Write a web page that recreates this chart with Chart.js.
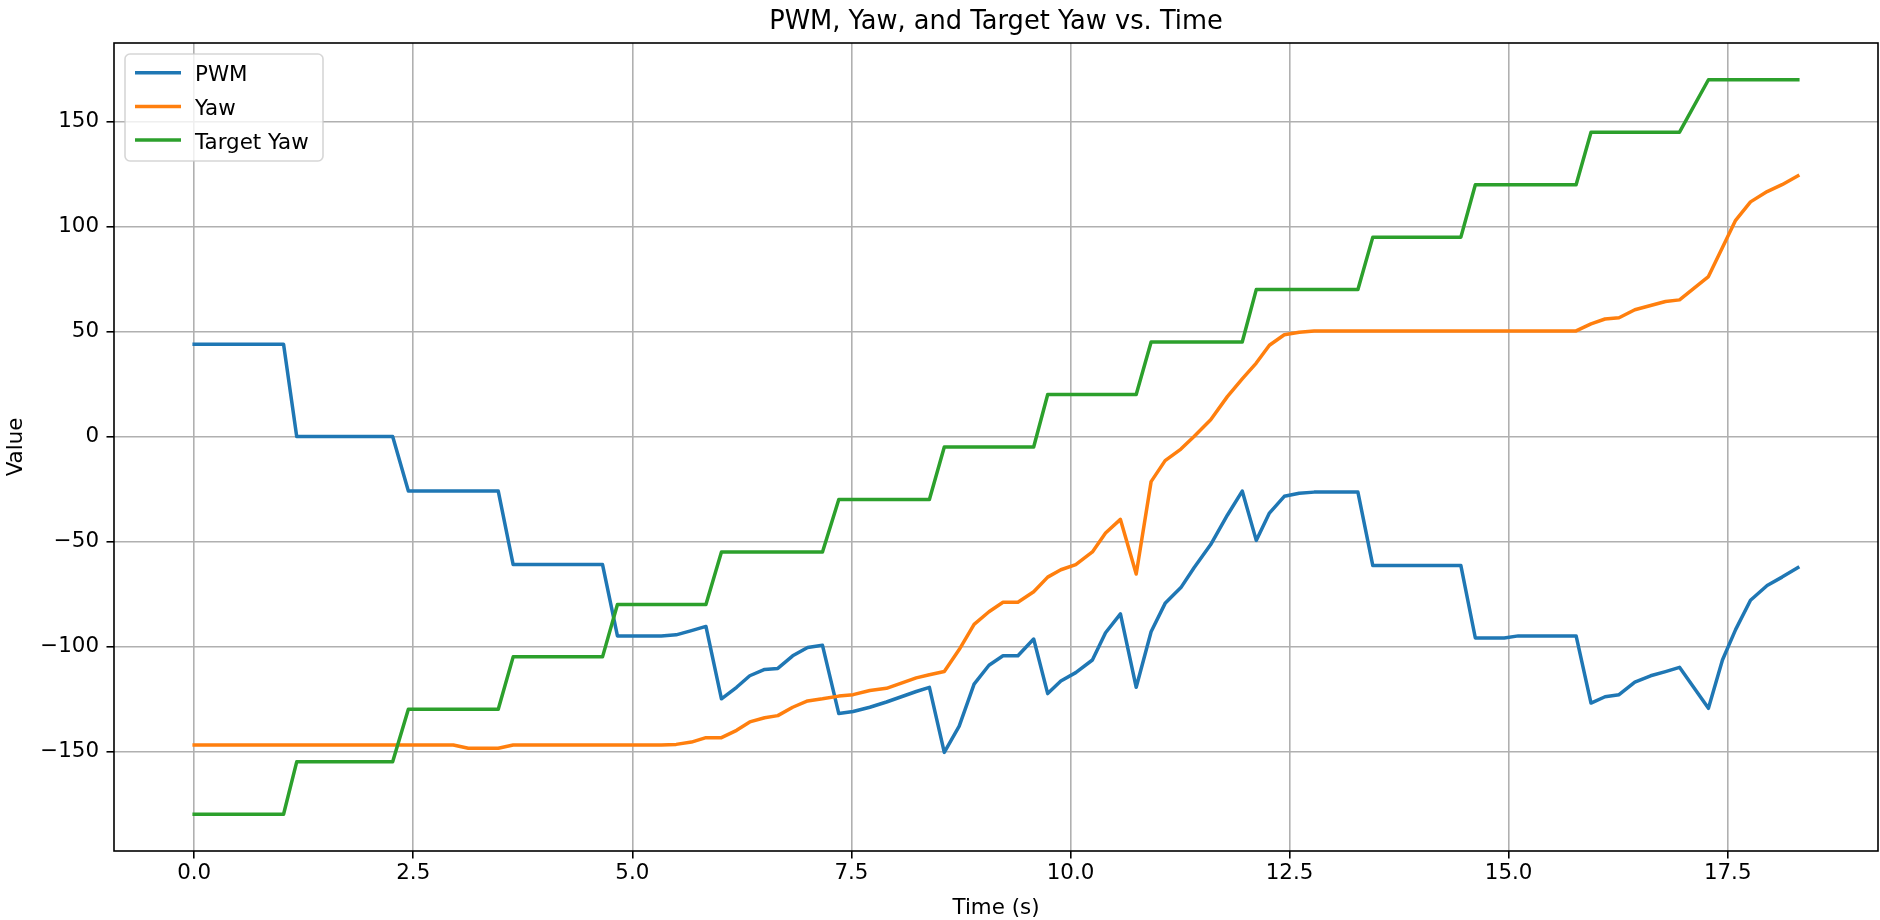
<!DOCTYPE html>
<html>
<head>
<meta charset="utf-8">
<title>PWM, Yaw, and Target Yaw vs. Time</title>
<script src="https://cdn.jsdelivr.net/npm/chart.js@4.4.1/dist/chart.umd.min.js"></script>
<style>
  html, body { margin: 0; padding: 0; background: #fff; }
  #wrap { width: 1880px; height: 920px; position: relative; }
</style>
</head>
<body>
<div id="wrap"><canvas id="chart"></canvas></div>
<script>
// Sample times (s)
const time = [
  0, 0.17, 0.34, 0.51, 0.68, 0.85, 1.02,
  1.17, 1.35, 1.53, 1.72, 1.90, 2.08, 2.265,
  2.444, 2.615, 2.786, 2.957, 3.128, 3.30, 3.47,
  3.64, 3.81, 3.98, 4.15, 4.32, 4.49, 4.66,
  4.83, 5.0, 5.165, 5.33, 5.50, 5.675, 5.84,
  6.017, 6.19, 6.34, 6.51, 6.66, 6.83, 7.0, 7.17,
  7.356, 7.52, 7.71, 7.9, 8.07, 8.24, 8.39,
  8.56, 8.73, 8.9, 9.07, 9.23, 9.4, 9.58,
  9.74, 9.89, 10.06, 10.25, 10.40, 10.57, 10.75,
  10.92, 11.08, 11.26, 11.41, 11.6, 11.79, 11.96,
  12.12, 12.27, 12.44, 12.61, 12.78, 12.95, 13.11, 13.28,
  13.45, 13.62, 13.78, 13.95, 14.12, 14.28, 14.455,
  14.62, 14.78, 14.95, 15.11, 15.28, 15.44, 15.61, 15.77,
  15.94, 16.10, 16.26, 16.44, 16.62, 16.79, 16.95,
  17.28, 17.44, 17.59, 17.76, 17.95, 18.12, 18.30
];

const pwm = [
  44, 44, 44, 44, 44, 44, 44,
  0, 0, 0, 0, 0, 0, 0,
  -26, -26, -26, -26, -26, -26, -26,
  -61, -61, -61, -61, -61, -61, -61,
  -95, -95, -95, -95, -94.5, -92.5, -90.5,
  -125, -119.5, -114, -111, -110.5, -104.5, -100.5, -99.5,
  -132, -131, -129, -126.5, -124, -121.5, -119.5,
  -150.5, -138, -118, -109, -104.5, -104.5, -96.5,
  -122.5, -116.5, -112.5, -106.5, -93.5, -84.5, -119.5,
  -93, -79.5, -72, -62.5, -51.5, -37.5, -26,
  -49.5, -36.5, -28.5, -27, -26.5, -26.5, -26.5, -26.5,
  -61.5, -61.5, -61.5, -61.5, -61.5, -61.5, -61.5,
  -96, -96, -96, -95, -95, -95, -95, -95,
  -127, -124, -123, -117, -114, -112, -110,
  -129.5, -106.5, -92, -78, -71, -67, -62.5
];

const yaw = [
  -147, -147, -147, -147, -147, -147, -147,
  -147, -147, -147, -147, -147, -147, -147,
  -147, -147, -147, -147, -148.5, -148.5, -148.5,
  -147, -147, -147, -147, -147, -147, -147,
  -147, -147, -147, -147, -146.7, -145.6, -143.5,
  -143.5, -140, -136, -134, -133, -129, -126, -125,
  -123.7, -123, -121, -120, -117.5, -115, -113.5,
  -112, -101.5, -89.5, -83.5, -79, -79, -74,
  -67, -63.5, -61, -55, -46, -39.5, -65.5,
  -21.5, -11.5, -6, 0, 8, 19, 27.5,
  35, 43.5, 48.5, 49.7, 50.3, 50.3, 50.3, 50.3,
  50.3, 50.3, 50.3, 50.3, 50.3, 50.3, 50.3,
  50.3, 50.3, 50.3, 50.3, 50.3, 50.3, 50.3, 50.3,
  53.7, 56, 56.6, 60.4, 62.4, 64.3, 65.1,
  76.2, 90.1, 103, 111.8, 116.7, 120, 124.2
];

const targetYaw = [
  -180, -180, -180, -180, -180, -180, -180,
  -155, -155, -155, -155, -155, -155, -155,
  -130, -130, -130, -130, -130, -130, -130,
  -105, -105, -105, -105, -105, -105, -105,
  -80, -80, -80, -80, -80, -80, -80,
  -55, -55, -55, -55, -55, -55, -55, -55,
  -30, -30, -30, -30, -30, -30, -30,
  -5, -5, -5, -5, -5, -5, -5,
  20, 20, 20, 20, 20, 20, 20,
  45, 45, 45, 45, 45, 45, 45,
  70, 70, 70, 70, 70, 70, 70, 70,
  95, 95, 95, 95, 95, 95, 95,
  120, 120, 120, 120, 120, 120, 120, 120,
  145, 145, 145, 145, 145, 145, 145,
  170, 170, 170, 170, 170, 170, 170
];

// Tick values and labels
const xTicks = [0, 2.5, 5, 7.5, 10, 12.5, 15, 17.5];
const xTickLabels = ["0.0", "2.5", "5.0", "7.5", "10.0", "12.5", "15.0", "17.5"];
const yTicks = [-150, -100, -50, 0, 50, 100, 150];
const yTickLabels = ["\u2212150", "\u2212100", "\u221250", "0", "50", "100", "150"];

const seriesNames = ["PWM", "Yaw", "Target Yaw"];
const seriesColors = ["#1f77b4", "#ff7f0e", "#2ca02c"];
const chartTitle = "PWM, Yaw, and Target Yaw vs. Time";

const FONT = "'DejaVu Sans', 'Liberation Sans', sans-serif";
Chart.defaults.font.family = FONT;
Chart.defaults.color = "#000";

// pair up times with values
function toPoints(values) {
  return time.map((t, i) => ({ x: t, y: values[i] }));
}

// Box round the plot area (matplotlib spines)
const frame = {
  id: "frame",
  afterDatasetsDraw(chart) {
    const { ctx, chartArea: a } = chart;
    ctx.save();
    ctx.strokeStyle = "#000";
    ctx.lineWidth = 1.6;
    ctx.strokeRect(a.left, a.top, a.right - a.left, a.bottom - a.top);
    ctx.restore();
  }
};

// Title centred over the plot area, not the whole canvas
const axesTitle = {
  id: "axesTitle",
  afterDraw(chart) {
    const { ctx, chartArea: a } = chart;
    ctx.save();
    ctx.font = "25.7px " + FONT;
    ctx.fillStyle = "#000";
    ctx.textAlign = "center";
    ctx.textBaseline = "alphabetic";
    ctx.fillText(chartTitle, (a.left + a.right) / 2, a.top - 13.7);
    ctx.restore();
  }
};

// Legend in the upper left corner, drawn like matplotlib's
const legendBox = {
  id: "legendBox",
  afterDraw(chart) {
    const { ctx, chartArea: a } = chart;
    const x = a.left + 11, y = a.top + 11, w = 198, h = 107, r = 5;
    ctx.save();
    ctx.beginPath();
    ctx.roundRect(x, y, w, h, r);
    ctx.fillStyle = "rgba(255,255,255,0.8)";
    ctx.fill();
    ctx.strokeStyle = "rgba(204,204,204,0.8)";
    ctx.lineWidth = 1.6;
    ctx.stroke();

    ctx.font = "21.4px " + FONT;
    ctx.textBaseline = "alphabetic";
    ctx.textAlign = "left";
    chart.data.datasets.forEach((ds, i) => {
      const rowY = y + 18.7 + i * 33.7;
      ctx.beginPath();
      ctx.moveTo(x + 10, rowY);
      ctx.lineTo(x + 56, rowY);
      ctx.strokeStyle = ds.borderColor;
      ctx.lineWidth = 3.5;
      ctx.lineCap = "butt";
      ctx.stroke();
      ctx.fillStyle = "#000";
      ctx.fillText(ds.label, x + 70, rowY + 8.5);
    });
    ctx.restore();
  }
};

new Chart(document.getElementById("chart"), {
  type: "line",
  data: {
    datasets: [
      { label: seriesNames[0], data: toPoints(pwm), borderColor: seriesColors[0], order: 3 },
      { label: seriesNames[1], data: toPoints(yaw), borderColor: seriesColors[1], order: 2 },
      { label: seriesNames[2], data: toPoints(targetYaw), borderColor: seriesColors[2], order: 1 }
    ]
  },
  options: {
    responsive: true,
    maintainAspectRatio: false,
    animation: false,
    elements: {
      line: { borderWidth: 3.5, tension: 0, fill: false, borderJoinStyle: "round", borderCapStyle: "square" },
      point: { radius: 0, hoverRadius: 0 }
    },
    layout: { padding: { left: 0, right: 2, top: 43, bottom: 0 } },
    plugins: {
      legend: { display: false },
      tooltip: { enabled: false },
      title: { display: false }
    },
    scales: {
      x: {
        type: "linear",
        min: -0.915,
        max: 19.215,
        afterBuildTicks: scale => { scale.ticks = xTicks.map(v => ({ value: v })); },
        afterFit: scale => { scale.height = 69; },
        ticks: {
          autoSkip: false,
          maxRotation: 0,
          padding: 2.5,
          color: "#000",
          font: { size: 21.4 },
          callback: (v, i) => xTickLabels[i]
        },
        grid: { color: "#b0b0b0", lineWidth: 1.6, tickColor: "#000", tickLength: 7.5, tickWidth: 1.6 },
        border: { display: false },
        title: {
          display: true,
          text: "Time (s)",
          color: "#000",
          font: { size: 21.4, lineHeight: 1.0 },
          padding: { top: 0, bottom: 0.8 }
        }
      },
      y: {
        type: "linear",
        min: -197.5,
        max: 187.5,
        afterBuildTicks: scale => { scale.ticks = yTicks.map(v => ({ value: v })); },
        afterFit: scale => { scale.width = 114; },
        ticks: {
          padding: 7.5,
          color: "#000",
          font: { size: 21.4 },
          callback: (v, i) => yTickLabels[i]
        },
        grid: { color: "#b0b0b0", lineWidth: 1.6, tickColor: "#000", tickLength: 7.5, tickWidth: 1.6 },
        border: { display: false },
        title: {
          display: true,
          text: "Value",
          color: "#000",
          font: { size: 21.4, lineHeight: 1.2 },
          padding: { top: 3.5, bottom: 0 }
        }
      }
    }
  },
  plugins: [frame, axesTitle, legendBox]
});
</script>
</body>
</html>
